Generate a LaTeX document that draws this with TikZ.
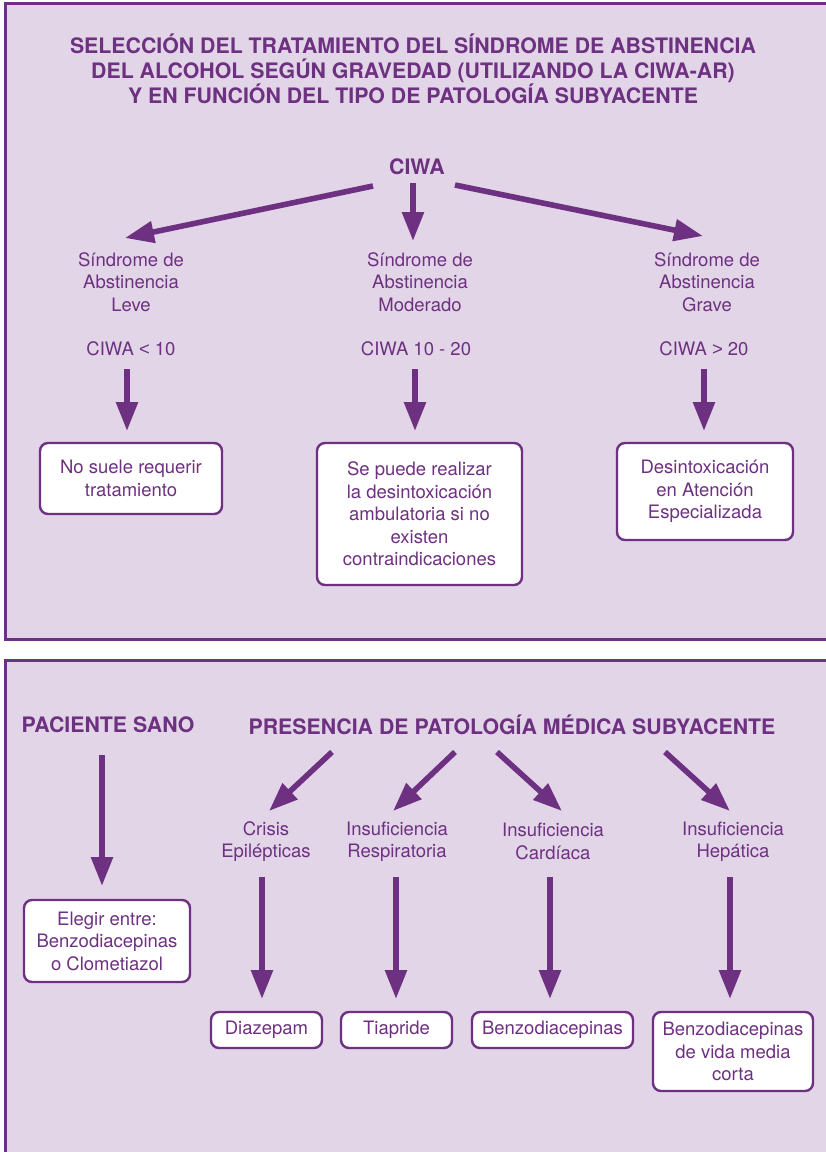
\documentclass[tikz,border=0pt]{standalone}
\usepackage{fontspec}
\setmainfont{TeX Gyre Heros}
\newfontfamily\symfont{Liberation Sans}
\usetikzlibrary{arrows.meta}
\definecolor{purp}{HTML}{6E3181}
\definecolor{lav}{HTML}{E1D5E7}
\tikzset{
  txt/.style={text=purp, align=center, inner sep=0pt, font=\fontsize{18.5}{22.5}\selectfont},
  ttl/.style={text=purp, align=center, inner sep=0pt, font=\bfseries\fontsize{21.3}{25}\selectfont},
  box/.style={draw=purp, line width=2.4pt, fill=white, rounded corners=8pt, text=purp, align=center, inner sep=0pt, font=\fontsize{18.5}{22.5}\selectfont},
  arr/.style={draw=purp, line width=5.6pt, -{Triangle[length=29pt,width=21pt]}},
}
\begin{document}
\begin{tikzpicture}[x=1pt,y=-1pt]
\useasboundingbox (0,0) rectangle (826,1152);
\clip (0,0) rectangle (826,1152);
\fill[white] (0,0) rectangle (826,1152);
% panels
\draw[purp, line width=3pt, fill=lav] (5.5,3.5) rectangle (840,639);
\draw[purp, line width=3pt, fill=lav] (5.5,660) rectangle (840,1170);
% title
\node[ttl] (title) at (413,69) {SELECCIÓN DEL TRATAMIENTO DEL SÍNDROME DE ABSTINENCIA\\DEL ALCOHOL SEGÚN GRAVEDAD (UTILIZANDO LA CIWA-AR)\\Y EN FUNCIÓN DEL TIPO DE PATOLOGÍA SUBYACENTE};
\node[ttl] (ciwa) at (417,167) {CIWA};
% level labels
\node[txt] (s1) at (131,282) {Síndrome de\\Abstinencia\\Leve};
\node[txt] (s2) at (420,282) {Síndrome de\\Abstinencia\\Moderado};
\node[txt] (s3) at (707,282) {Síndrome de\\Abstinencia\\Grave};
\node[txt] (c1) at (131,349) {CIWA {\symfont <} 10};
\node[txt] (c2) at (416,349) {CIWA 10 - 20};
\node[txt] (c3) at (704,349) {CIWA {\symfont >} 20};
% boxes
\node[box, minimum width=182pt, minimum height=71pt] (b1) at (131,478.5) {No suele requerir\\tratamiento};
\node[box, minimum width=205pt, minimum height=142pt] (b2) at (419.5,514) {Se puede realizar\\la desintoxicación\\ambulatoria si no\\existen\\contraindicaciones};
\node[box, minimum width=176pt, minimum height=97pt] (b3) at (705,491.5) {Desintoxicación\\en Atención\\Especializada};
% top arrows
\coordinate (a1s) at (373,186); \coordinate (a1e) at (125,238);
\coordinate (a2s) at (413,183); \coordinate (a2e) at (413,241);
\coordinate (a3s) at (455,185); \coordinate (a3e) at (703,236);
\draw[arr] (a1s) -- (a1e);
\draw[arr] (a2s) -- (a2e);
\draw[arr] (a3s) -- (a3e);
\coordinate (d1s) at (127,369); \coordinate (d1e) at (127,431);
\coordinate (d2s) at (415,369); \coordinate (d2e) at (415,431);
\coordinate (d3s) at (704,369); \coordinate (d3e) at (704,431);
\draw[arr] (d1s) -- (d1e);
\draw[arr] (d2s) -- (d2e);
\draw[arr] (d3s) -- (d3e);
% bottom section
\node[ttl] (sano) at (108,725) {PACIENTE SANO};
\node[ttl] (pres) at (512,725) {PRESENCIA DE PATOLOGÍA MÉDICA SUBYACENTE};
\node[txt] (p1) at (266,841.5) {Crisis\\Epilépticas};
\node[txt] (p2) at (397,841.5) {Insuficiencia\\Respiratoria};
\node[txt] (p3) at (553,841.5) {Insuficiencia\\Cardíaca};
\node[txt] (p4) at (733,841.5) {Insuficiencia\\Hepática};
\node[box, minimum width=166pt, minimum height=82pt] (be) at (107,941) {Elegir entre:\\Benzodiacepinas\\o Clometiazol};
\node[box, minimum width=111pt, minimum height=36pt] (q1) at (266.5,1030) {Diazepam};
\node[box, minimum width=111pt, minimum height=36pt] (q2) at (396.5,1030) {Tiapride};
\node[box, minimum width=161pt, minimum height=36pt] (q3) at (552.5,1030) {Benzodiacepinas};
\node[box, minimum width=160pt, minimum height=79pt] (q4) at (733,1051.5) {Benzodiacepinas\\de vida media\\corta};
\coordinate (e0s) at (102,755); \coordinate (e0e) at (102,886);
\draw[arr] (e0s) -- (e0e);
\coordinate (g1s) at (332,752); \coordinate (g1e) at (269,811);
\coordinate (g2s) at (455,752); \coordinate (g2e) at (393,811);
\coordinate (g3s) at (497,752); \coordinate (g3e) at (562,811);
\coordinate (g4s) at (665,752); \coordinate (g4e) at (730,811);
\draw[arr] (g1s) -- (g1e);
\draw[arr] (g2s) -- (g2e);
\draw[arr] (g3s) -- (g3e);
\draw[arr] (g4s) -- (g4e);
\coordinate (h1s) at (262,877); \coordinate (h1e) at (262,999);
\coordinate (h2s) at (396,877); \coordinate (h2e) at (396,999);
\coordinate (h3s) at (550,877); \coordinate (h3e) at (550,999);
\coordinate (h4s) at (730,877); \coordinate (h4e) at (730,999);
\draw[arr] (h1s) -- (h1e);
\draw[arr] (h2s) -- (h2e);
\draw[arr] (h3s) -- (h3e);
\draw[arr] (h4s) -- (h4e);
\end{tikzpicture}
\end{document}
